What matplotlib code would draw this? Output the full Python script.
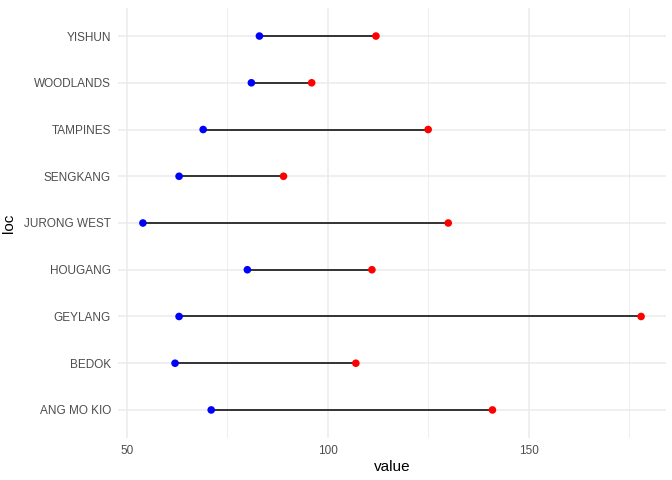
import matplotlib.pyplot as plt
from matplotlib.ticker import MultipleLocator

plt.rcParams['font.family'] = ['Liberation Sans', 'DejaVu Sans']

# data
locs = ['ANG MO KIO', 'BEDOK', 'GEYLANG', 'HOUGANG', 'JURONG WEST',
        'SENGKANG', 'TAMPINES', 'WOODLANDS', 'YISHUN']
low_vals = [71, 62, 63, 80, 54, 63, 69, 81, 83]
high_vals = [141, 107, 178, 111, 130, 89, 125, 96, 112]

fig = plt.figure(figsize=(6.72, 4.8), dpi=100)
ax = fig.add_axes([118 / 672, 1 - 438 / 480, (666 - 118) / 672, (438 - 8) / 480])

ypos = list(range(len(locs)))

# grid like theme_minimal
ax.xaxis.set_major_locator(MultipleLocator(50))
ax.xaxis.set_minor_locator(MultipleLocator(25))
ax.grid(which='major', color='#EBEBEB', linewidth=1.1)
ax.grid(which='minor', axis='x', color='#EBEBEB', linewidth=0.6)
ax.set_axisbelow(True)

ax.hlines(ypos, low_vals, high_vals, color='black', linewidth=1.1, zorder=2)
ax.scatter(low_vals, ypos, color='blue', s=30, zorder=3, edgecolors='none')
ax.scatter(high_vals, ypos, color='red', s=30, zorder=3, edgecolors='none')

lo = min(low_vals)
hi = max(high_vals)
pad = (hi - lo) * 0.05
ax.set_xlim(lo - pad, hi + pad)
ax.set_ylim(-0.6, len(locs) - 0.4)

ax.set_yticks(ypos)
ax.set_yticklabels(locs)
ax.tick_params(axis='both', which='both', length=0, labelsize=8.5,
               labelcolor='#4D4D4D', pad=5)
ax.set_xlabel('value', fontsize=11, color='black', labelpad=2)
ax.set_ylabel('loc', fontsize=11, color='black', labelpad=6)

for s in ax.spines.values():
    s.set_visible(False)

fig.savefig('out.png', dpi=100)
